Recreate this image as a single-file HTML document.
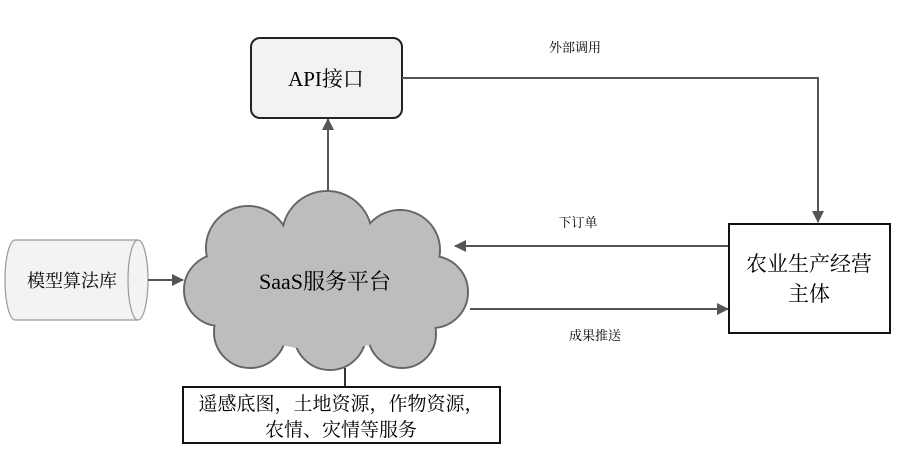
<!DOCTYPE html>
<html><head><meta charset="utf-8"><style>
body{margin:0;background:#fff;}
svg{display:block;font-family:"Liberation Serif","Noto Serif CJK SC",serif;}
.c{font-family:"Noto Serif CJK SC",serif;}
</style></head><body>
<svg width="900" height="449" viewBox="0 0 900 449" xmlns="http://www.w3.org/2000/svg">
<defs>
<marker id="a" markerWidth="12" markerHeight="12" refX="11" refY="6" orient="auto" markerUnits="userSpaceOnUse">
<path d="M0,0 L12,6 L0,12 z" fill="#555"/></marker>
</defs>
<rect x="251" y="38" width="151" height="80" rx="9" fill="#f2f2f2" stroke="#222" stroke-width="2"/>
<text x="326" y="86" font-size="21" text-anchor="middle">API接口</text>
<polyline points="402,78 818,78 818,222" fill="none" stroke="#555" stroke-width="2" marker-end="url(#a)"/>
<text x="575" y="52" font-size="13" text-anchor="middle" class="c">外部调用</text>
<rect x="729" y="224" width="161" height="109" fill="#fff" stroke="#111" stroke-width="2"/>
<text x="809" y="271" font-size="21" text-anchor="middle" class="c">农业生产经营</text>
<text x="809" y="301" font-size="21" text-anchor="middle" class="c">主体</text>
<line x1="728" y1="246" x2="455" y2="246" stroke="#555" stroke-width="2" marker-end="url(#a)"/>
<text x="578" y="227" font-size="13" text-anchor="middle" class="c">下订单</text>
<line x1="470" y1="309" x2="728" y2="309" stroke="#555" stroke-width="2" marker-end="url(#a)"/>
<text x="595" y="340" font-size="13" text-anchor="middle" class="c">成果推送</text>
<line x1="328" y1="195" x2="328" y2="119" stroke="#555" stroke-width="2" marker-end="url(#a)"/>
<g stroke="#666" stroke-width="2" fill="#bdbdbd">
<circle cx="248" cy="248" r="42"/>
<circle cx="327" cy="236" r="45"/>
<circle cx="400" cy="250" r="40"/>
<circle cx="432" cy="292" r="36"/>
<circle cx="402" cy="334" r="34"/>
<circle cx="330" cy="334" r="36"/>
<circle cx="250" cy="332" r="36"/>
<circle cx="220" cy="290" r="36"/>
</g>
<g fill="#bdbdbd">
<circle cx="248" cy="248" r="41"/>
<circle cx="327" cy="236" r="44"/>
<circle cx="400" cy="250" r="39"/>
<circle cx="432" cy="292" r="35"/>
<circle cx="402" cy="334" r="33"/>
<circle cx="330" cy="334" r="35"/>
<circle cx="250" cy="332" r="35"/>
<circle cx="220" cy="290" r="35"/>
<ellipse cx="325" cy="290" rx="110" ry="60"/>
</g>
<text x="325" y="289" font-size="22" text-anchor="middle">SaaS服务平台</text>
<path d="M15,240 L138,240 A10,40 0 0 1 138,320 L15,320 A10,40 0 0 1 15,240 z" fill="#f3f3f3" stroke="#999" stroke-width="1.2"/>
<path d="M138,240 A10,40 0 0 0 138,320" fill="none" stroke="#999" stroke-width="1.2"/>
<text x="72" y="287" font-size="18" text-anchor="middle" class="c">模型算法库</text>
<line x1="148" y1="280" x2="183" y2="280" stroke="#555" stroke-width="2" marker-end="url(#a)"/>
<line x1="345" y1="368" x2="345" y2="387" stroke="#333" stroke-width="2"/>
<rect x="183" y="387" width="317" height="56" fill="#fff" stroke="#111" stroke-width="2"/>
<text x="341" y="410" font-size="19" text-anchor="middle" class="c">遥感底图，土地资源，作物资源，</text>
<text x="341" y="436" font-size="19" text-anchor="middle" class="c">农情、灾情等服务</text>
</svg>
</body></html>
